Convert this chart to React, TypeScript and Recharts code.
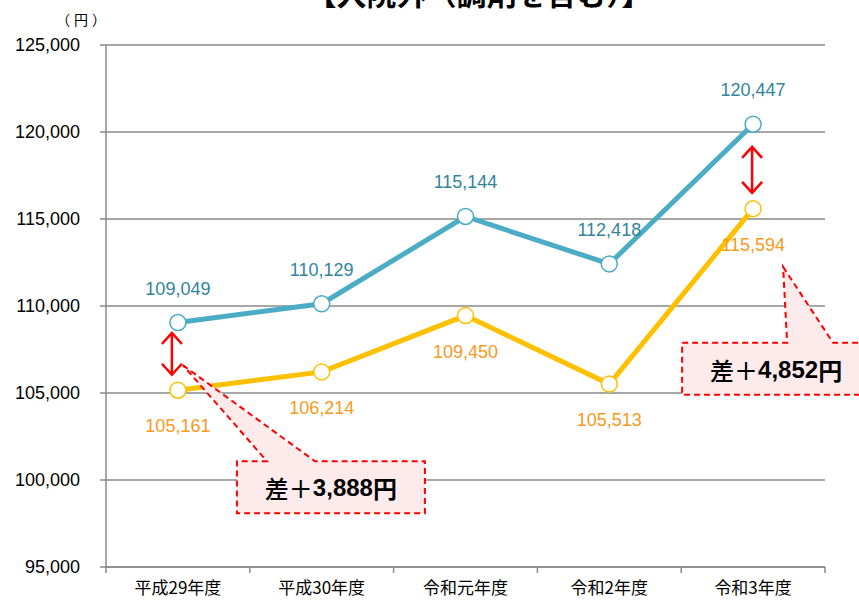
import {
  CartesianGrid,
  LabelList,
  Line,
  LineChart,
  ReferenceDot,
  ReferenceLine,
  XAxis,
  YAxis,
} from "recharts";

const categories = ["平成29年度", "平成30年度", "令和元年度", "令和2年度", "令和3年度"];
const upperValues = [109049, 110129, 115144, 112418, 120447];
const lowerValues = [105161, 106214, 109450, 105513, 115594];
const yTicks = [95000, 100000, 105000, 110000, 115000, 120000, 125000];

// difference annotations (arrow ends and callout tips, in yen)
const arrowCategories = ["平成29年度", "令和3年度"];
const arrowTops = [108450, 119150];
const arrowBottoms = [106050, 116500];
const calloutCategories = ["平成29年度", "令和3年度"];
const calloutTips = [106600, 112250];
const calloutAmounts = ["3,888", "4,852"];

const W = 859;
const H = 600;
const MARGIN = { top: 45, right: 34, left: 0, bottom: 0 };
const Y_AXIS_W = 106;
const BAND = (W - MARGIN.left - MARGIN.right - Y_AXIS_W) / categories.length;

const BLUE = "#4BACC6";
const BLUE_TEXT = "#31849B";
const ORANGE = "#FFC000";
const ORANGE_TEXT = "#F79A1C";
const GRID = "#8A8A8A";
const NUM_FONT = "'Liberation Sans', Arial, sans-serif";
const JP_FONT = "'Noto Sans CJK JP', 'Noto Sans', sans-serif";

const data = categories.map((name, i) => ({
  name,
  upper: upperValues[i],
  lower: lowerValues[i],
}));

const fmt = (v: number) => v.toLocaleString("en-US");

function makeLabel(color: string, dy: number) {
  return (props: any) => {
    const x = props.x ?? props.viewBox?.x;
    const y = props.y ?? props.viewBox?.y;
    if (x == null || y == null) return null;
    return (
      <text
        x={x}
        y={y + dy}
        textAnchor="middle"
        dominantBaseline="central"
        fill={color}
        fontSize={18}
        fontFamily={NUM_FONT}
      >
        {fmt(Number(props.value))}
      </text>
    );
  };
}

function CategoryTick(props: any) {
  const { x, y, payload, index } = props;
  const half = BAND / 2;
  return (
    <g>
      <line x1={x - half} y1={y - 6} x2={x - half} y2={y} stroke={GRID} strokeWidth={1.5} />
      {index === categories.length - 1 && (
        <line x1={x + half} y1={y - 6} x2={x + half} y2={y} stroke={GRID} strokeWidth={1.5} />
      )}
      <text x={x} y={y + 21} textAnchor="middle" fontSize={17} fontFamily={JP_FONT} fill="#000">
        {payload.value}
      </text>
    </g>
  );
}

function arrowShape(dx: number) {
  return (p: any) => {
    const x = p.x1 + dx;
    const top = Math.min(p.y1, p.y2);
    const bottom = Math.max(p.y1, p.y2);
    return (
      <g stroke="#FF0000" strokeWidth={2.5} fill="none">
        <line x1={x} y1={top} x2={x} y2={bottom} />
        <polyline points={`${x - 10},${top + 11} ${x},${top} ${x + 10},${top + 11}`} />
        <polyline points={`${x - 10},${bottom - 11} ${x},${bottom} ${x + 10},${bottom - 11}`} />
      </g>
    );
  };
}

// box is relative to the tip of the pointer
function calloutShape(
  amount: string,
  dx: number,
  box: { left: number; top: number; w: number; h: number; b1: number; b2: number },
) {
  return (p: any) => {
    const tx = p.cx + dx;
    const ty = p.cy;
    const l = tx + box.left;
    const t = ty + box.top;
    const r = l + box.w;
    const b = t + box.h;
    const d = `M${tx},${ty} L${tx + box.b2},${t} L${r},${t} L${r},${b} L${l},${b} L${l},${t} L${tx + box.b1},${t} Z`;
    return (
      <g>
        <path d={d} fill="#FDEBEB" stroke="#FF0000" strokeWidth={2} strokeDasharray="6 4" />
        <text
          x={(l + r) / 2}
          y={(t + b) / 2}
          textAnchor="middle"
          dominantBaseline="central"
          fontSize={24}
          fontFamily={JP_FONT}
          fill="#000"
        >
          <tspan fontWeight={500}>差＋</tspan>
          <tspan fontWeight="bold" fontFamily={`'Liberation Sans', ${JP_FONT}`}>
            {amount}
          </tspan>
          <tspan fontWeight="bold">円</tspan>
        </text>
      </g>
    );
  };
}

const arrowOffsets = [-6, -1];
const calloutBoxes = [
  { dx: 5, box: { left: 54, top: 96, w: 188, h: 52, b1: 84, b2: 132 } },
  { dx: 30, box: { left: -101, top: 76, w: 188, h: 52, b1: 4, b2: 50 } },
];

export default function App() {
  return (
    <div style={{ position: "absolute", left: 0, top: 0, width: W, height: H, background: "#fff" }}>
      <svg width={W} height={14} style={{ position: "absolute", left: 0, top: 0 }}>
        <text x={479} y={5} textAnchor="middle" fontSize={30} fontWeight="bold" fontFamily={JP_FONT}>
          【入院外（調剤を含む）】
        </text>
      </svg>
      <svg width={120} height={30} style={{ position: "absolute", left: 0, top: 6 }}>
        <text x={81} y={13} textAnchor="middle" dominantBaseline="central" fontSize={14} fontFamily={JP_FONT}>
          <tspan>（</tspan>
          <tspan dx={4}>円</tspan>
          <tspan dx={4}>）</tspan>
        </text>
      </svg>
      <LineChart width={W} height={H} data={data} margin={MARGIN}>
        <CartesianGrid vertical={false} stroke={GRID} strokeWidth={1.5} />
        <XAxis
          dataKey="name"
          interval={0}
          height={33}
          padding={{ left: BAND / 2, right: BAND / 2 }}
          tickLine={false}
          tickSize={6}
          tickMargin={0}
          axisLine={{ stroke: GRID, strokeWidth: 1.5 }}
          tick={<CategoryTick />}
        />
        <YAxis
          width={Y_AXIS_W}
          domain={[95000, 125000]}
          ticks={yTicks}
          tickFormatter={fmt}
          tickSize={6}
          tickMargin={20}
          axisLine={{ stroke: GRID, strokeWidth: 1.5 }}
          tickLine={{ stroke: GRID, strokeWidth: 1.5 }}
          tick={{ fontSize: 18, fill: "#000", fontFamily: NUM_FONT }}
        />
        <Line
          dataKey="upper"
          stroke={BLUE}
          strokeWidth={5}
          dot={{ r: 8, fill: "#fff", stroke: BLUE, strokeWidth: 1.5 }}
          isAnimationActive={false}
        >
          <LabelList dataKey="upper" content={makeLabel(BLUE_TEXT, -34)} />
        </Line>
        <Line
          dataKey="lower"
          stroke={ORANGE}
          strokeWidth={5}
          dot={{ r: 8, fill: "#fff", stroke: ORANGE, strokeWidth: 1.5 }}
          isAnimationActive={false}
        >
          <LabelList dataKey="lower" content={makeLabel(ORANGE_TEXT, 36)} />
        </Line>
        {arrowCategories.map((cat, i) => (
          <ReferenceLine
            key={`arrow-${cat}`}
            segment={[
              { x: cat, y: arrowTops[i] },
              { x: cat, y: arrowBottoms[i] },
            ]}
            shape={arrowShape(arrowOffsets[i])}
          />
        ))}
        {calloutCategories.map((cat, i) => (
          <ReferenceDot
            key={`callout-${cat}`}
            x={cat}
            y={calloutTips[i]}
            shape={calloutShape(calloutAmounts[i], calloutBoxes[i].dx, calloutBoxes[i].box)}
          />
        ))}
      </LineChart>
    </div>
  );
}
